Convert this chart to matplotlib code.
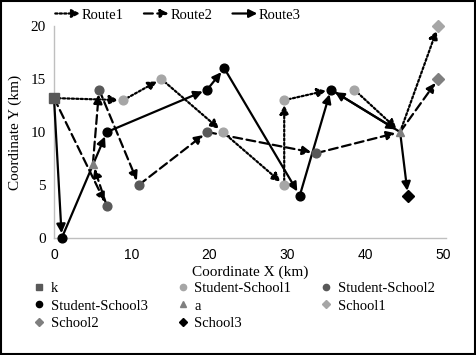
import numpy as np
import matplotlib
matplotlib.use("Agg")
import matplotlib.pyplot as plt
from matplotlib.lines import Line2D
from matplotlib.patches import FancyArrowPatch, Rectangle
from matplotlib.legend_handler import HandlerBase

plt.rcParams['font.family'] = ['Liberation Serif', 'DejaVu Serif']

# points
k_x, k_y = [0], [13.2]
ss1_x = [8.9, 13.8, 21.7, 29.6, 29.6, 38.6]
ss1_y = [13, 15, 10, 5, 13, 14]
ss2_x = [5.8, 6.8, 10.9, 19.7, 33.7]
ss2_y = [14, 3, 5, 10, 8]
ss3_x = [1, 6.8, 19.7, 21.9, 31.6, 35.6]
ss3_y = [0, 10, 14, 16, 4, 14]
a_x, a_y = [5, 44.5], [7, 10]
sc1_x, sc1_y = [49.4], [20]
sc2_x, sc2_y = [49.4], [15]
sc3_x, sc3_y = [45.5], [4]

# routes (nan = break)
route1_x = [0, 8.9, 13.8, 21.7, 29.6, 29.6, 35.6, np.nan, 38.6, 44.5, 49.4]
route1_y = [13.2, 13, 15, 10, 5, 13, 14, np.nan, 14, 10, 20]
route2_x = [0, 6.8, 5, 5.8, 10.9, 19.7, 33.7, 44.5, 49.4]
route2_y = [13.2, 3, 7, 14, 5, 10, 8, 10, 15]
route3_x = [0, 1, 6.8, 19.7, 21.9, 31.6, 35.6, 44.5, 45.5, np.nan, 44.5, 35.6]
route3_y = [13.2, 0, 10, 14, 16, 4, 14, 10, 4, np.nan, 10, 14]

styles = {'Route1': (0, (1, 1)), 'Route2': (0, (4, 2)), 'Route3': '-'}

fig = plt.figure(figsize=(4.76, 3.55), dpi=100)
ax = fig.add_axes([54/476, 1-238/355, (446-54)/476, (238-26)/355])


def draw_route(xs, ys, ls):
    for i in range(len(xs) - 1):
        x0, y0, x1, y1 = xs[i], ys[i], xs[i+1], ys[i+1]
        if np.isnan(x0) or np.isnan(x1):
            continue
        ax.annotate('', xy=(x1, y1), xytext=(x0, y0),
                    arrowprops=dict(arrowstyle='-|>', linestyle=ls, lw=1.6,
                                    color='black', shrinkA=0, shrinkB=3.5,
                                    mutation_scale=13))


draw_route(route1_x, route1_y, styles['Route1'])
draw_route(route2_x, route2_y, styles['Route2'])
draw_route(route3_x, route3_y, styles['Route3'])

ms = 6.3
pts = {}
pts['k'] = ax.plot(k_x, k_y, 's', color='#595959', ms=ms+1, ls='none', zorder=5, clip_on=False)[0]
pts['Student-School1'] = ax.plot(ss1_x, ss1_y, 'o', color='#a6a6a6', ms=ms, ls='none', zorder=5)[0]
pts['Student-School2'] = ax.plot(ss2_x, ss2_y, 'o', color='#595959', ms=ms, ls='none', zorder=5)[0]
pts['Student-School3'] = ax.plot(ss3_x, ss3_y, 'o', color='black', ms=ms, ls='none', zorder=5, clip_on=False)[0]
pts['a'] = ax.plot(a_x, a_y, '^', color='#7f7f7f', ms=ms, ls='none', zorder=5)[0]
pts['School1'] = ax.plot(sc1_x, sc1_y, 'D', color='#a6a6a6', ms=ms, ls='none', zorder=5, clip_on=False)[0]
pts['School2'] = ax.plot(sc2_x, sc2_y, 'D', color='#7f7f7f', ms=ms, ls='none', zorder=5)[0]
pts['School3'] = ax.plot(sc3_x, sc3_y, 'D', color='black', ms=ms, ls='none', zorder=5)[0]

ax.set_xlim(0, 50.4)
ax.set_ylim(0, 20)
ax.set_xticks([0, 10, 20, 30, 40, 50])
ax.set_yticks([0, 5, 10, 15, 20])
ax.tick_params(length=0, labelsize=11, pad=6)
ax.tick_params(axis='x', pad=7)
for lab in ax.get_xticklabels():
    lab.set_family('Liberation Sans')
    lab.set_fontsize(10)
for s in ['top', 'right']:
    ax.spines[s].set_visible(False)
for s in ['left', 'bottom']:
    ax.spines[s].set_color('#bfbfbf')
    ax.spines[s].set_linewidth(1)
ax.set_xlabel('Coordinate X (km)', fontsize=11, labelpad=3)
ax.set_ylabel('Coordinate Y (km)', fontsize=11, labelpad=6)


class ArrowHandler(HandlerBase):
    def create_artists(self, legend, orig_handle, xdescent, ydescent,
                       width, height, fontsize, trans):
        y = height / 2 - ydescent
        arr = FancyArrowPatch((-xdescent, y), (width - xdescent, y),
                              arrowstyle='-|>', mutation_scale=12, lw=1.6,
                              linestyle=styles[orig_handle.get_label()],
                              color='black', shrinkA=0, shrinkB=0,
                              transform=trans)
        return [arr]


route_handles = [Line2D([], [], label=n) for n in ['Route1', 'Route2', 'Route3']]
fig.legend(handles=route_handles, labels=['Route1', 'Route2', 'Route3'],
           handler_map={Line2D: ArrowHandler()},
           loc='center', bbox_to_anchor=(178/476, 1-15/355), ncol=3,
           frameon=False, fontsize=10.5, handlelength=1.7, handletextpad=0.1,
           columnspacing=1.4, borderpad=0)

order = ['k', 'Student-School3', 'School2', 'Student-School1', 'a',
         'School3', 'Student-School2', 'School1']
leg_handles = [Line2D([], [], marker=pts[n].get_marker(), color=pts[n].get_color(),
                      ls='none', ms=4.5) for n in order]
fig.legend(handles=leg_handles, labels=order, loc='center',
           bbox_to_anchor=(234/476, 1-306/355), ncol=3, frameon=False,
           fontsize=10.5, handlelength=0.8, handletextpad=0.4,
           columnspacing=2.0, labelspacing=0.3, borderpad=0)

fig.patches.append(Rectangle((0.002, 0.003), 0.995, 0.994, transform=fig.transFigure,
                             fill=False, edgecolor='black', lw=1.5))

fig.savefig('out.png', dpi=100)
